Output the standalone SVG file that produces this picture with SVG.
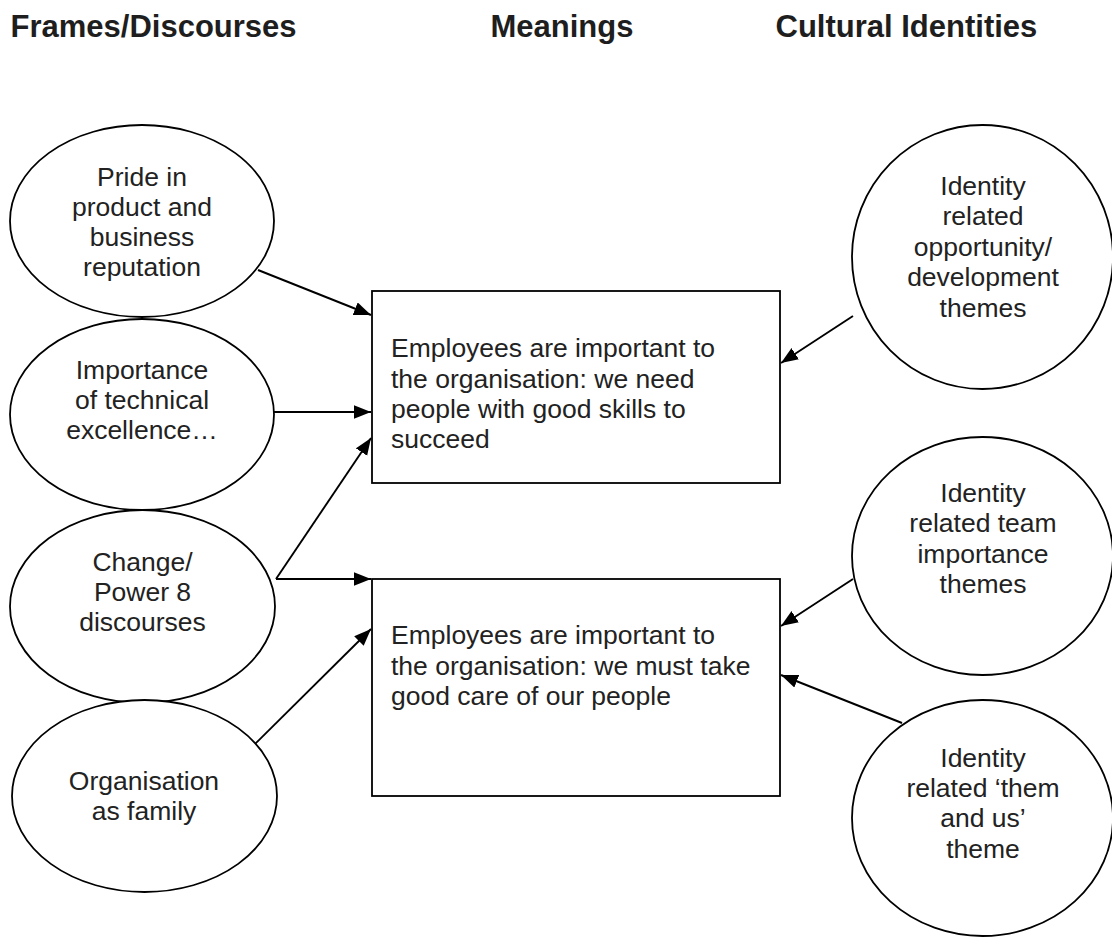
<svg xmlns="http://www.w3.org/2000/svg" width="1112" height="937" viewBox="0 0 1112 937">
<style>
.hd{font-family:"Liberation Sans",Arial,sans-serif;font-weight:bold;font-size:31px;fill:#1e1e1e}
.t{font-family:"Liberation Sans",Arial,sans-serif;font-size:26.5px;fill:#222}
.c{text-anchor:middle}
.sh{fill:#fff;stroke:#000;stroke-width:1.8}
.ln{stroke:#000;stroke-width:1.9;fill:none;marker-end:url(#ah)}
</style>
<defs>
<marker id="ah" markerUnits="userSpaceOnUse" markerWidth="18" markerHeight="14" refX="17" refY="6.75" orient="auto">
<path d="M0,0 L17,6.75 L0,13.5 z" fill="#000"/>
</marker>
</defs>
<rect width="1112" height="937" fill="#fff"/>
<g id="headers">
<text class="hd" x="10.5" y="36.7">Frames/Discourses</text>
<text class="hd" x="490.5" y="36.7">Meanings</text>
<text class="hd" x="775.5" y="36.7">Cultural Identities</text>
</g>
<g id="connectors">
<line class="ln" x1="258" y1="270" x2="371" y2="315"/>
<line class="ln" x1="273" y1="412" x2="371" y2="412"/>
<polyline class="ln" points="276,579 371,438"/>
<line class="ln" x1="276" y1="579" x2="371" y2="579"/>
<line class="ln" x1="252" y1="747" x2="371" y2="629"/>
<line class="ln" x1="853" y1="316" x2="781" y2="363"/>
<line class="ln" x1="853" y1="579" x2="781" y2="626"/>
<line class="ln" x1="902" y1="723" x2="781" y2="675"/>
</g>
<g id="pride">
<ellipse class="sh" cx="142" cy="221" rx="132" ry="96"/>
<text class="t c" x="142" y="185.5">Pride in</text>
<text class="t c" x="142" y="215.8">product and</text>
<text class="t c" x="142" y="246.1">business</text>
<text class="t c" x="142" y="276.4">reputation</text>
</g>
<g id="importance">
<ellipse class="sh" cx="142" cy="414.5" rx="132" ry="95.5"/>
<text class="t c" x="142" y="378.5">Importance</text>
<text class="t c" x="142" y="408.8">of technical</text>
<text class="t c" x="142" y="439.1">excellence…</text>
</g>
<g id="change">
<ellipse class="sh" cx="142.5" cy="606.5" rx="132.5" ry="96.5"/>
<text class="t c" x="142.5" y="570.5">Change/</text>
<text class="t c" x="142.5" y="600.8">Power 8</text>
<text class="t c" x="142.5" y="631.1">discourses</text>
</g>
<g id="family">
<ellipse class="sh" cx="144.5" cy="796" rx="132.5" ry="96"/>
<text class="t c" x="144" y="790">Organisation</text>
<text class="t c" x="144" y="820.3">as family</text>
</g>
<g id="meaning1">
<rect class="sh" x="372" y="291" width="408" height="192"/>
<text class="t" x="391" y="357.3">Employees are important to</text>
<text class="t" x="391" y="387.6">the organisation: we need</text>
<text class="t" x="391" y="417.9">people with good skills to</text>
<text class="t" x="391" y="448.2">succeed</text>
</g>
<g id="meaning2">
<rect class="sh" x="372" y="579" width="408" height="217"/>
<text class="t" x="391" y="644.3">Employees are important to</text>
<text class="t" x="391" y="674.6">the organisation: we must take</text>
<text class="t" x="391" y="704.9">good care of our people</text>
</g>
<g id="opportunity">
<ellipse class="sh" cx="982.5" cy="257" rx="130.5" ry="132"/>
<text class="t c" x="983" y="195">Identity</text>
<text class="t c" x="983" y="225.4">related</text>
<text class="t c" x="983" y="255.8">opportunity/</text>
<text class="t c" x="983" y="286.2">development</text>
<text class="t c" x="983" y="316.6">themes</text>
</g>
<g id="team">
<ellipse class="sh" cx="982.5" cy="556" rx="130.5" ry="119"/>
<text class="t c" x="983" y="501.7">Identity</text>
<text class="t c" x="983" y="532.2">related team</text>
<text class="t c" x="983" y="562.7">importance</text>
<text class="t c" x="983" y="593.2">themes</text>
</g>
<g id="themus">
<ellipse class="sh" cx="982.5" cy="818" rx="130.5" ry="118"/>
<text class="t c" x="983" y="766.7">Identity</text>
<text class="t c" x="983" y="797">related ‘them</text>
<text class="t c" x="983" y="827.3">and us’</text>
<text class="t c" x="983" y="857.6">theme</text>
</g>
</svg>
